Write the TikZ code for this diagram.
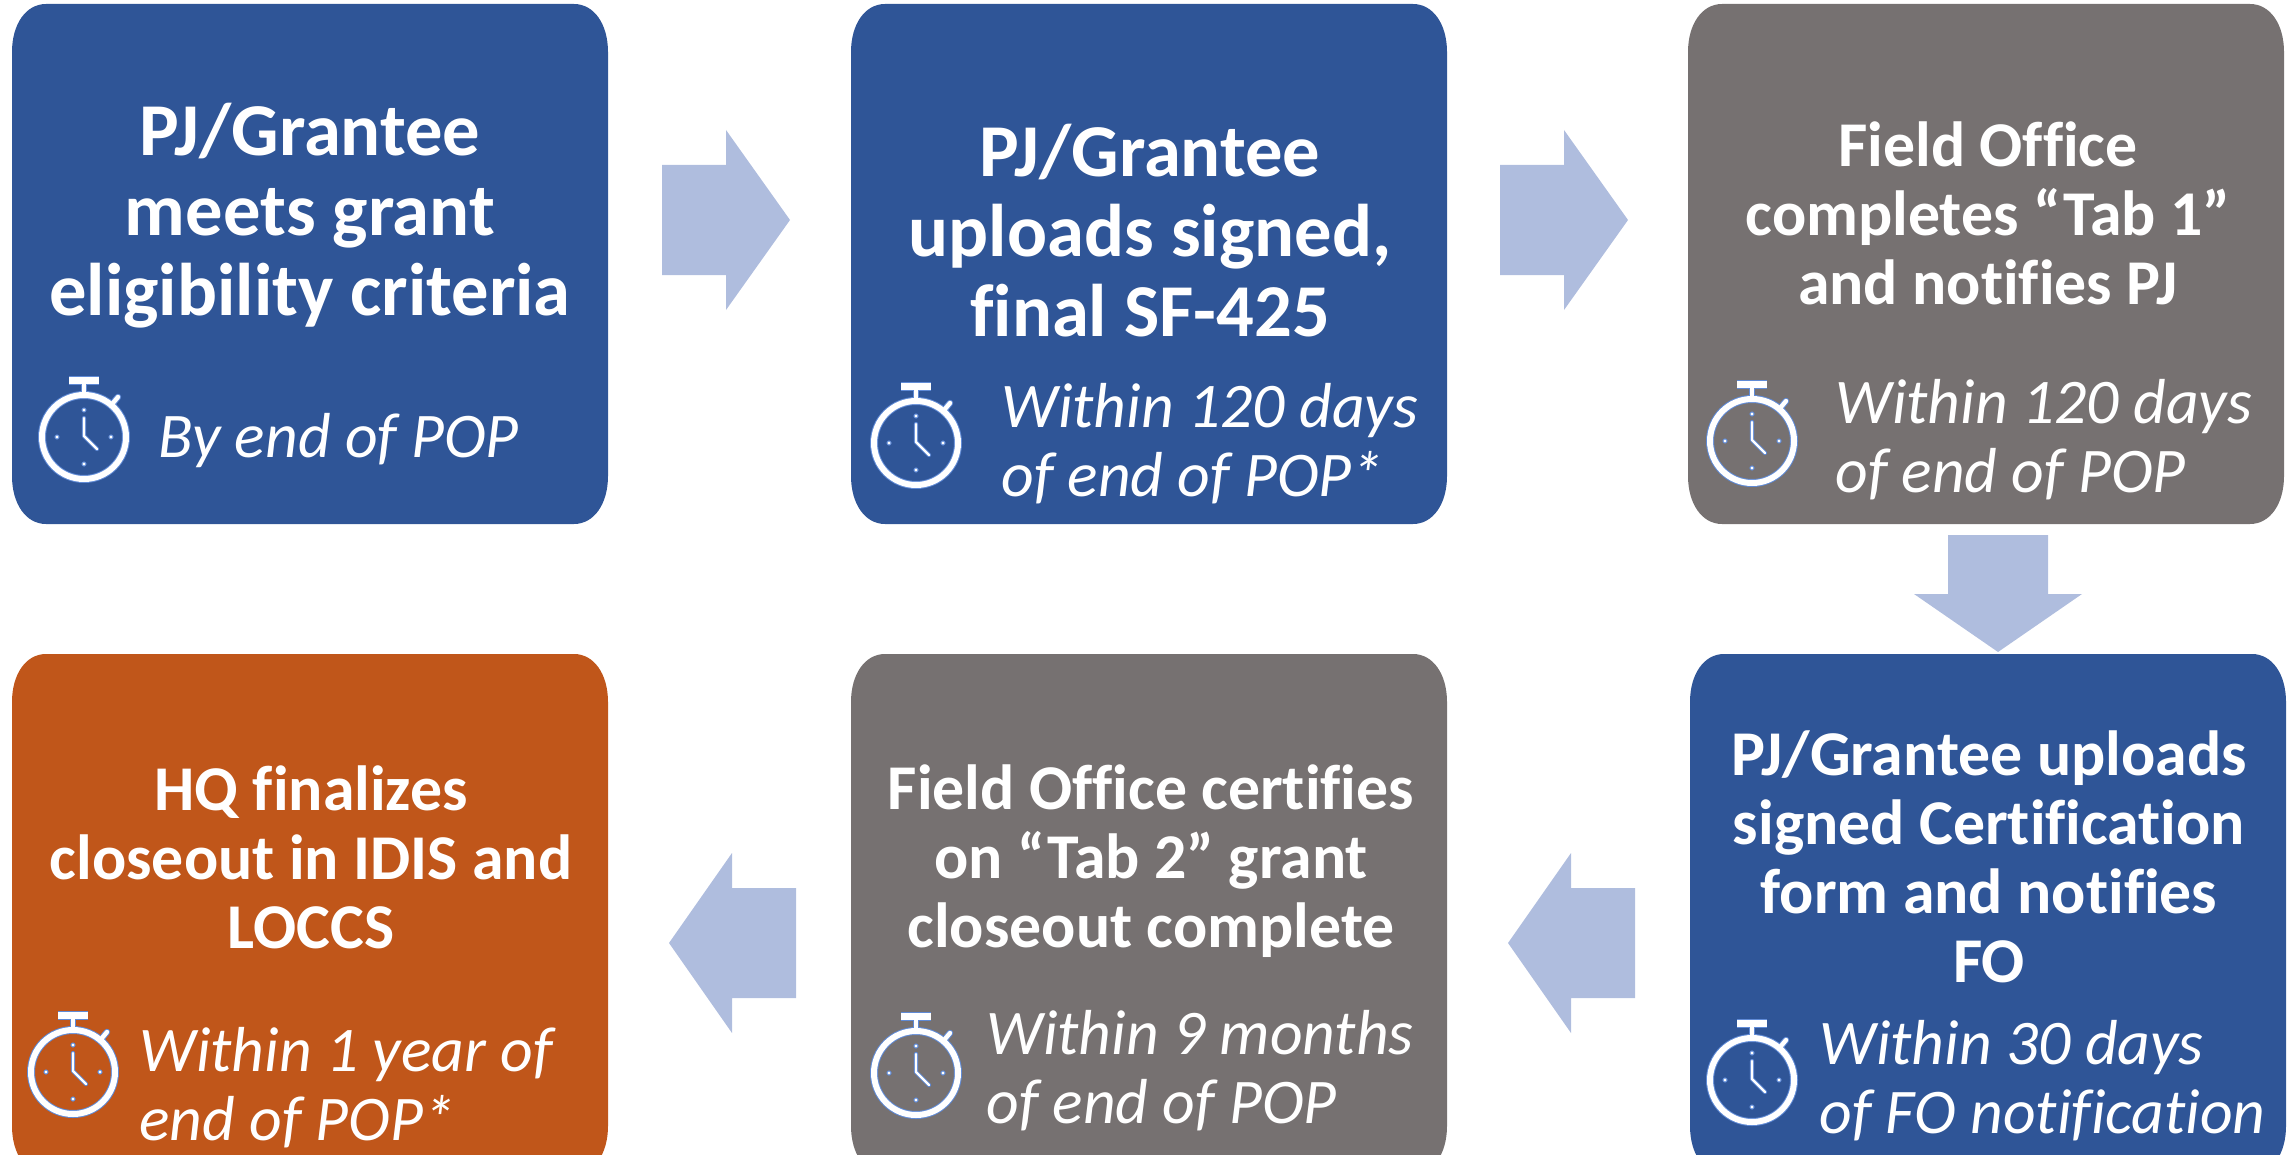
\documentclass[tikz,border=0pt]{standalone}
\usepackage{fontspec}
\setmainfont[Ligatures=NoCommon]{Carlito}
\definecolor{cblue}{HTML}{2F5597}
\definecolor{cgray}{HTML}{767171}
\definecolor{corange}{HTML}{C0561A}
\definecolor{carrow}{HTML}{AFBDDE}
\definecolor{cglow}{HTML}{5F8AD6}
\tikzset{
  x=0.5pt,y=-0.5pt,
  card/.pic={
    \path[fill=#1] (0,48) .. controls (0,20) and (14,0) .. (34,0) -- (562,0)
      .. controls (582,0) and (596,20) .. (596,48) -- (596,472)
      .. controls (596,500) and (582,520) .. (562,520) -- (34,520)
      .. controls (14,520) and (0,500) .. (0,472) -- cycle;
  },
  watch/.pic={
    \foreach \c/\w in {cglow/1.0,white/0}{
      \draw[\c,line width=3pt+\w pt] (0,0) circle[radius=42];
      \draw[\c,line width=2pt+\w pt] (0,-44) -- (0,-56);
      \draw[\c,line width=3.5pt+\w pt] (-15,-57) -- (15,-57);
      \draw[\c,line width=2.2pt+\w pt,line cap=round] (29,-34) -- (34,-40);
      \draw[\c,line width=1.1pt+\w pt,line cap=round,line join=round] (0,-19) -- (0,-1) -- (13,12);
      \foreach \a in {0,90,180,270}
        \fill[\c] (\a:27) circle[radius=1.6+\w];
    }
  },
  blockarrow/.style={fill=carrow,draw=none},
  titletext/.style={text=white,font=\fontsize{37.3}{40}\selectfont\bfseries,align=center,inner sep=0pt},
  titlesmall/.style={text=white,font=\fontsize{31.9}{34.5}\selectfont\bfseries,align=center,inner sep=0pt},
  timetext/.style={text=white,font=\fontsize{31.8}{34.5}\selectfont\itshape,align=left,anchor=west,inner sep=0pt},
}
\begin{document}
\begin{tikzpicture}
\useasboundingbox (0,0) rectangle (2295,1155);
\clip (0,0) rectangle (2295,1155);
% cards
\pic at (12,4) {card=cblue};
\pic at (851,4) {card=cblue};
\pic at (1688,4) {card=cgray};
\pic at (1690,654) {card=cblue};
\pic at (851,654) {card=cgray};
\pic at (12,654) {card=corange};
% arrows
\coordinate (a1) at (662,220);
\coordinate (a2) at (1500,220);
\coordinate (a3) at (1998,535);
\coordinate (a4) at (1635,943);
\coordinate (a5) at (796,943);
\fill[blockarrow] (a1) ++(0,-55) -- ++(64,0) -- ++(0,-35) -- ++(64,90) -- ++(-64,90) -- ++(0,-35) -- ++(-64,0) -- cycle;
\fill[blockarrow] (a2) ++(0,-55) -- ++(64,0) -- ++(0,-35) -- ++(64,90) -- ++(-64,90) -- ++(0,-35) -- ++(-64,0) -- cycle;
\fill[blockarrow] (a3) ++(-50,0) -- ++(100,0) -- ++(0,59) -- ++(34,0) -- ++(-84,58) -- ++(-84,-58) -- ++(34,0) -- cycle;
\fill[blockarrow] (a4) ++(0,-55) -- ++(-64,0) -- ++(0,-35) -- ++(-63,90) -- ++(63,90) -- ++(0,-35) -- ++(64,0) -- cycle;
\fill[blockarrow] (a5) ++(0,-55) -- ++(-64,0) -- ++(0,-35) -- ++(-63,90) -- ++(63,90) -- ++(0,-35) -- ++(64,0) -- cycle;
% titles
\node[titletext] (t1) at (310,216) {PJ/Grantee\\meets grant\\eligibility criteria};
\node[titletext] (t2) at (1150,231) {PJ/Grantee\\uploads signed,\\final SF-425};
\node[titlesmall] (t3) at (1988,213) {Field Office\\completes “Tab 1”\\and notifies PJ};
\node[titlesmall] (t4) at (1989,857) {PJ/Grantee uploads\\signed Certification\\form and notifies\\FO};
\node[titlesmall] (t5) at (1151,861) {Field Office certifies\\on “Tab 2” grant\\closeout complete};
\node[titlesmall] (t6) at (311,857) {HQ finalizes\\closeout in IDIS and\\LOCCS};
% times
\node[timetext] (d1) at (158,441) {By end of POP};
\node[timetext] (d2) at (1001,444) {Within 120 days\\of end of POP*};
\node[timetext] (d3) at (1835,440) {Within 120 days\\of end of POP};
\node[timetext] (d4) at (1819,1081) {Within 30 days\\of FO notification};
\node[timetext] (d5) at (986,1071) {Within 9 months\\of end of POP};
\node[timetext] (d6) at (139,1088) {Within 1 year of\\end of POP*};
% stopwatches
\pic at (84,437) {watch};
\pic at (916,443) {watch};
\pic at (1752,441) {watch};
\pic at (1752,1080) {watch};
\pic at (916,1073) {watch};
\pic at (73,1072) {watch};
\end{tikzpicture}
\end{document}
